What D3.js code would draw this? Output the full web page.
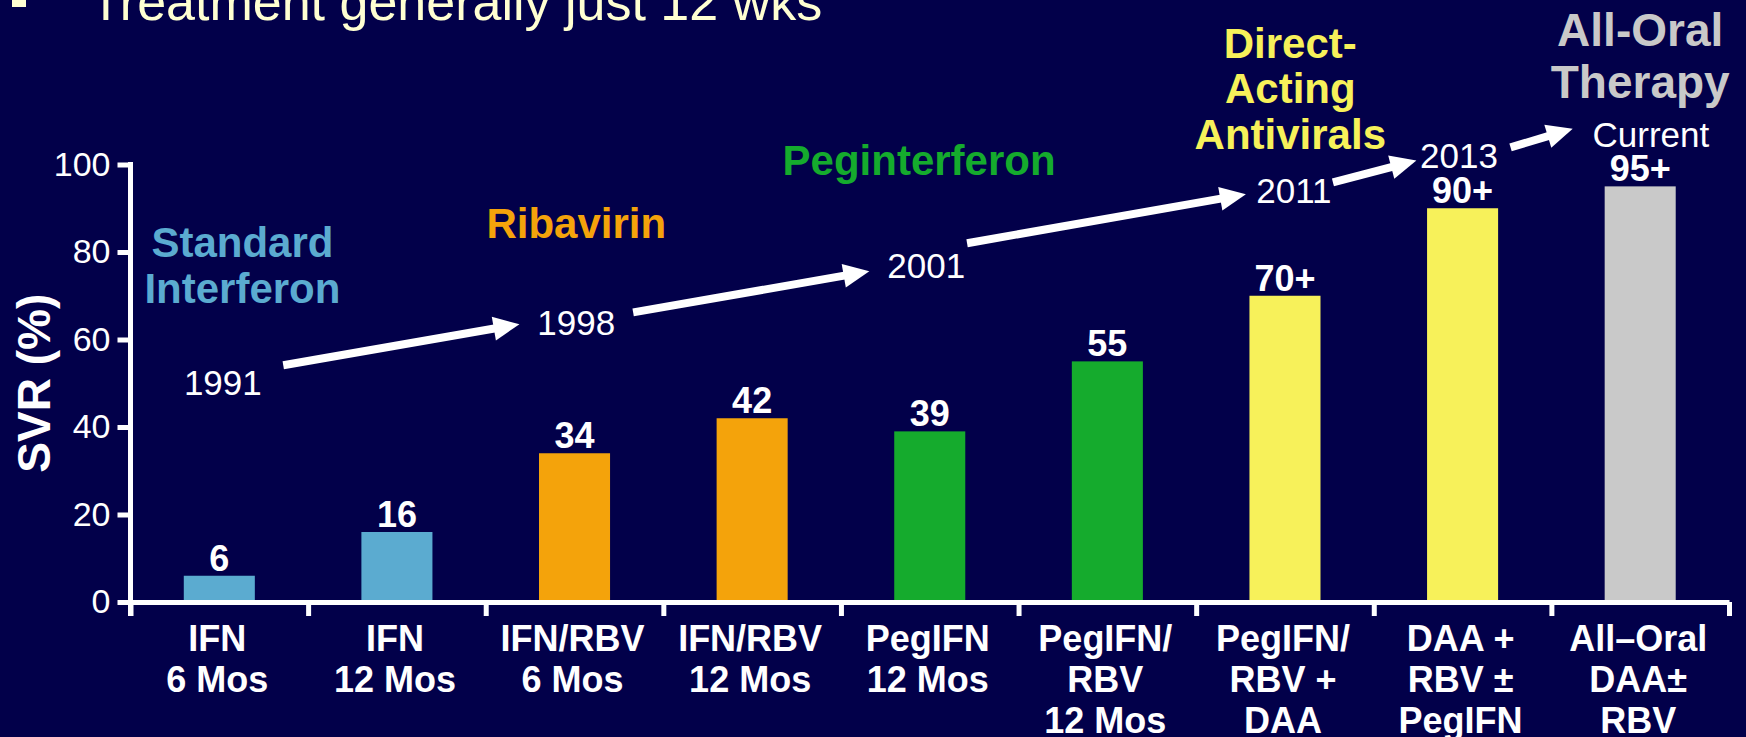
<!DOCTYPE html>
<html>
<head>
<meta charset="utf-8">
<script src="https://cdn.jsdelivr.net/npm/d3@7"></script>
<style>
  html, body { margin: 0; padding: 0; background: #02004a; }
  svg { display: block; }
  text { font-family: "Liberation Sans", Arial, sans-serif; }
</style>
</head>
<body>
<svg id="chart" width="1746" height="737"></svg>
<script>
// categories on the x axis, one entry per line of the label
var categoryLines = [
  ["IFN", "6 Mos"],
  ["IFN", "12 Mos"],
  ["IFN/RBV", "6 Mos"],
  ["IFN/RBV", "12 Mos"],
  ["PegIFN", "12 Mos"],
  ["PegIFN/", "RBV", "12 Mos"],
  ["PegIFN/", "RBV +", "DAA"],
  ["DAA +", "RBV \u00b1", "PegIFN"],
  ["All\u2013Oral", "DAA\u00b1", "RBV"]
];
var svrValues = [6, 16, 34, 42, 39, 55, 70, 90, 95];
var valueLabels = ["6", "16", "34", "42", "39", "55", "70+", "90+", "95+"];
var barEra = [0, 0, 1, 1, 2, 2, 3, 3, 4];
var yTicks = [0, 20, 40, 60, 80, 100];

// treatment eras, their titles (x in category units, y in SVR units)
var eraTitles = [["Standard", "Interferon"], ["Ribavirin"], ["Peginterferon"], ["Direct-", "Acting", "Antivirals"], ["All-Oral", "Therapy"]];
var eraColors = ["#5babd0", "#f4a30b", "#15ab2d", "#f7f15a", "#c9c9c9"];
var eraTitleX = [0.63, 2.51, 4.44, 6.53, 8.50];
var eraTitleY = [78.8, 83.1, 97.5, 124.4, 127.2];

// timeline years and arrows between them
var years = ["1991", "1998", "2001", "2011", "2013", "Current"];
var yearX = [0.52, 2.51, 4.48, 6.55, 7.48, 8.56];
var yearY = [47.3, 61.0, 74.0, 91.1, 99.1, 103.9];
var arrowFrom = [[0.86, 54.1], [2.83, 66.2], [4.71, 82.0], [6.77, 95.9], [7.77, 103.9]];
var arrowTo = [[2.19, 63.5], [4.16, 75.6], [6.28, 93.2], [7.24, 100.9], [8.12, 108.2]];

var svg = d3.select("#chart");
var plotLeft = 130.5, plotRight = 1729, plotTop = 164.5, plotBottom = 602;

svg.append("rect").attr("width", 1746).attr("height", 737).attr("fill", "#02004a");

var x = d3.scaleBand()
  .domain(d3.range(categoryLines.length))
  .range([plotLeft, plotRight])
  .paddingInner(0.6)
  .paddingOuter(0.3);
var xIdx = d3.scaleLinear().domain([0, categoryLines.length]).range([plotLeft, plotRight]);
var y = d3.scaleLinear().domain([0, 100]).range([plotBottom, plotTop]);

// bullet line at the top of the slide
svg.append("rect").attr("x", 12).attr("y", -7).attr("width", 14).attr("height", 14).attr("fill", "#ffffd2");
svg.append("text").attr("x", 90).attr("y", 20)
  .attr("font-size", 52).attr("fill", "#ffffd2")
  .text("Treatment generally just 12 wks");

// bars
svg.append("g").selectAll("rect").data(svrValues).enter()
  .append("rect")
  .attr("x", function(d, i){ return x(i); })
  .attr("y", function(d){ return y(d); })
  .attr("width", x.bandwidth())
  .attr("height", function(d){ return y(0) - y(d); })
  .attr("fill", function(d, i){ return eraColors[barEra[i]]; });

svg.append("g").selectAll("text").data(svrValues).enter()
  .append("text")
  .attr("x", function(d, i){ return x(i) + x.bandwidth() / 2; })
  .attr("y", function(d){ return y(d) - 5; })
  .attr("text-anchor", "middle")
  .attr("font-size", 36).attr("font-weight", "bold").attr("fill", "#fff")
  .text(function(d, i){ return valueLabels[i]; });

// y axis
var yAxis = d3.axisLeft(y).tickValues(yTicks).tickSize(13).tickSizeOuter(0).tickPadding(7);
var gy = svg.append("g").attr("transform", "translate(" + plotLeft + ",0)").call(yAxis);
gy.select(".domain").remove();
gy.selectAll(".tick line").attr("stroke", "#fff").attr("stroke-width", 5);
gy.selectAll(".tick text").attr("fill", "#fff").attr("font-size", 34)
  .attr("font-family", "Liberation Sans, Arial, sans-serif");
gy.append("line").attr("x1", 0).attr("x2", 0)
  .attr("y1", plotTop - 2.5).attr("y2", plotBottom + 14)
  .attr("stroke", "#fff").attr("stroke-width", 5);

// x axis with ticks between categories
var xAxis = d3.axisBottom(xIdx).tickValues(d3.range(categoryLines.length + 1))
  .tickSize(14).tickSizeOuter(0).tickFormat("");
var gx = svg.append("g").attr("transform", "translate(0," + plotBottom + ")").call(xAxis);
gx.select(".domain").attr("stroke", "#fff").attr("stroke-width", 5);
gx.selectAll(".tick line").attr("stroke", "#fff").attr("stroke-width", 5);

var catLabels = svg.append("g").selectAll("text").data(categoryLines).enter()
  .append("text")
  .attr("text-anchor", "middle")
  .attr("font-size", 36).attr("font-weight", "bold").attr("fill", "#fff");
catLabels.each(function(lines, i){
  var t = d3.select(this);
  lines.forEach(function(l, j){
    t.append("tspan")
      .attr("x", x(i) + x.bandwidth() / 2 - 2)
      .attr("y", plotBottom + 49 + j * 41)
      .text(l);
  });
});

// y axis title
svg.append("text")
  .attr("transform", "translate(50," + y(50) + ") rotate(-90)")
  .attr("text-anchor", "middle")
  .attr("font-size", 46).attr("font-weight", "bold").attr("fill", "#fff")
  .text("SVR (%)");

// era titles
eraTitles.forEach(function(lines, i){
  var big = i === 4;
  var t = svg.append("text")
    .attr("text-anchor", "middle")
    .attr("font-size", big ? 46 : 42).attr("font-weight", "bold")
    .attr("fill", eraColors[i]);
  lines.forEach(function(l, j){
    t.append("tspan")
      .attr("x", xIdx(eraTitleX[i]))
      .attr("y", y(eraTitleY[i]) + j * (big ? 52 : 45.5))
      .text(l);
  });
});

// years
svg.append("g").selectAll("text").data(years).enter()
  .append("text")
  .attr("x", function(d, i){ return xIdx(yearX[i]); })
  .attr("y", function(d, i){ return y(yearY[i]); })
  .attr("text-anchor", "middle")
  .attr("font-size", 35).attr("fill", "#fff")
  .text(function(d){ return d; });

// arrows
var headLen = 26, headHalf = 12;
arrowFrom.forEach(function(a, i){
  var x0 = xIdx(a[0]), y0 = y(a[1]);
  var x1 = xIdx(arrowTo[i][0]), y1 = y(arrowTo[i][1]);
  var len = Math.hypot(x1 - x0, y1 - y0);
  var ux = (x1 - x0) / len, uy = (y1 - y0) / len;
  var bx = x1 - ux * headLen, by = y1 - uy * headLen;
  svg.append("line")
    .attr("x1", x0).attr("y1", y0).attr("x2", bx + ux * 2).attr("y2", by + uy * 2)
    .attr("stroke", "#fff").attr("stroke-width", 8);
  svg.append("polygon")
    .attr("points", [[x1, y1], [bx - uy * headHalf, by + ux * headHalf], [bx + uy * headHalf, by - ux * headHalf]].join(" "))
    .attr("fill", "#fff");
});
</script>
</body>
</html>
